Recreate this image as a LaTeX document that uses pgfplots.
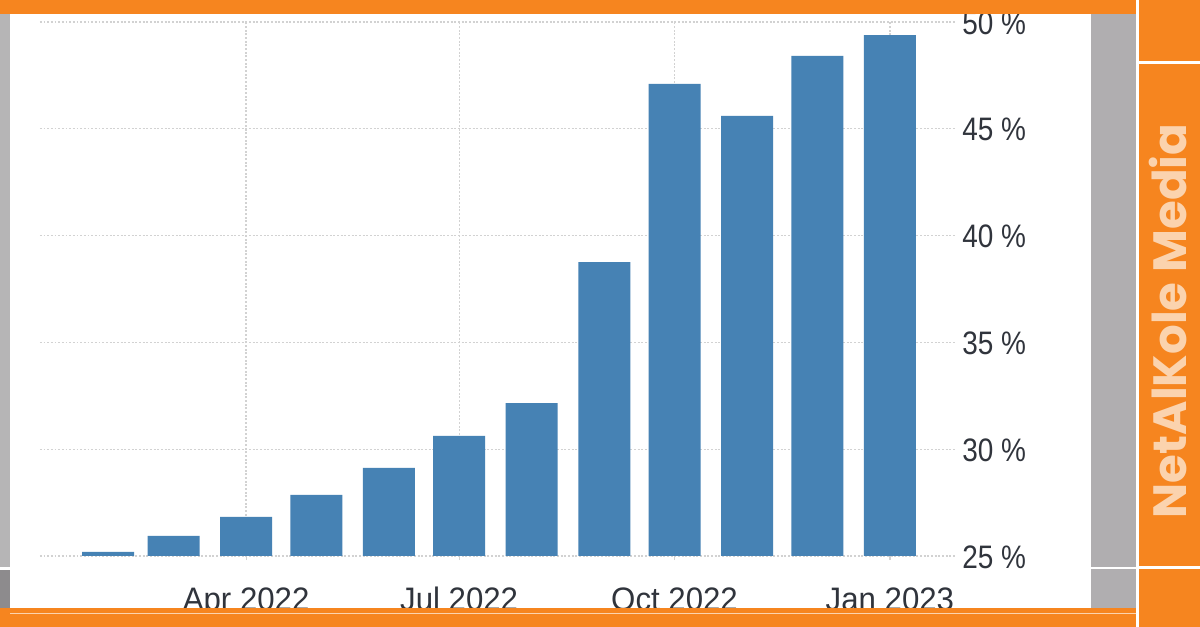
\documentclass[border=0pt]{standalone}
\usepackage{fontspec}
\setmainfont{Liberation Sans}
\newfontfamily\xlabfont[FakeStretch=0.96]{Liberation Sans}
\newfontfamily\ylabfont[FakeStretch=0.86]{Liberation Sans}
\newfontfamily\wm{Poppins}
\usepackage{pgfplots}
\pgfplotsset{compat=1.18}
\definecolor{bar}{HTML}{4682B4}
\definecolor{org}{HTML}{F6851F}
\definecolor{side}{HTML}{B0AEB0}
\definecolor{grd}{HTML}{D2D2D2}
\definecolor{lab}{HTML}{30343C}
\definecolor{wmk}{HTML}{FBD3AE}
\newcommand{\R}[5]{\fill[#1] ({#2*0.6pt},{(627-#3)*0.6pt}) rectangle ({#4*0.6pt},{(627-#5)*0.6pt});}
\pgfplotstableread{
d v
0 25.19
28 25.94
59 26.83
89 27.86
120 29.12
150 30.62
181 32.16
212 38.76
242 47.10
273 45.60
303 48.41
334 49.39
}\rates
\begin{document}
\begin{tikzpicture}
\path[use as bounding box] (0,0) rectangle (720pt,376.2pt);
\begin{scope}
\clip (0,0) rectangle (720pt,376.2pt);
\R{white}{0}{0}{1200}{627}
\R{side!92!white}{0}{0}{9.5}{567}
\R{side!80!black}{0}{570}{9.5}{627}
\R{side}{1091}{0}{1136}{627}
\begin{axis}[
  at={(24pt,42.6pt)},anchor=south west,
  scale only axis,width=549pt,height=320.4pt,
  xmin=-29.05,xmax=361.8,ymin=25,ymax=50,
  axis line style={draw=none},
  ybar,bar width=31.2pt,bar shift=0pt,
  xtick={59,150,242,334},
  xticklabels={Apr 2022,Jul 2022,Oct 2022,Jan 2023},
  ytick={25,30,35,40,45,50},
  yticklabels={25 \%,30 \%,35 \%,40 \%,45 \%,50 \%},
  ytick pos=right,yticklabel pos=right,
  xtick pos=bottom,
  grid=major,
  major grid style={grd,dash pattern=on 1.1pt off 1.1pt,line width=0.8pt},
  major tick length=2.5pt,
  tick style={grd,line width=0.7pt},
  ytick style={draw=none},
  clip=false,
  xticklabel style={font=\xlabfont\fontsize{19.5pt}{20pt}\selectfont,text=lab,inner sep=0pt,anchor=base,yshift=-30.4pt},
  yticklabel style={font=\ylabfont\fontsize{19.5pt}{20pt}\selectfont,text=lab,inner sep=0pt,anchor=west,xshift=4.2pt,yshift=-0.5pt},
]
\addplot[draw=none,fill=bar] table[x=d,y=v] {\rates};
\end{axis}
\R{org}{0}{0}{1136}{14}
\R{org}{0}{608}{1136}{627}
\R{wmk}{10}{613}{1136}{614.5}
\R{org}{1138.5}{0}{1200}{61}
\R{org}{1138.5}{64.5}{1200}{566}
\R{org}{1138.5}{569.5}{1200}{627}
\R{white}{1091}{567}{1136}{569}
\R{white}{0}{567}{9.5}{570}
\end{scope}
\node[rotate=90,text=wmk,font=\wm\bfseries\fontsize{28pt}{29pt}\selectfont,inner sep=0pt] at ({1168*0.6pt},{(627-321)*0.6pt}) {NetAlKole Media};
\end{tikzpicture}
\end{document}
